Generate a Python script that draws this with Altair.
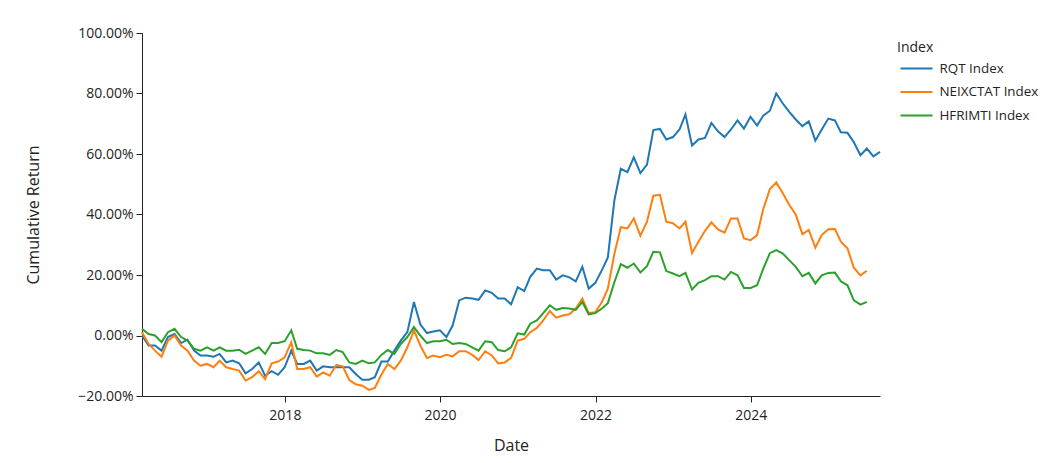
import altair as alt
import pandas as pd

# Monthly cumulative returns (%), first month = Feb 2016 (month-end dates)
start_date = "2016-02-29"
series_names = ["RQT Index", "NEIXCTAT Index", "HFRIMTI Index"]
series_colors = ["#1f77b4", "#ff7f0e", "#2ca02c"]

rqt = [0.0, -3.3, -3.3, -5.0, -0.5, 0.5, -2.5, -1.4, -5.0, -6.6,
       -6.6, -7.0, -6.1, -8.9, -8.3, -9.2, -12.5, -11.1, -8.9, -13.3,
       -11.8, -13.0, -10.5, -5.0, -9.4, -9.4, -8.3, -11.6, -10.2, -10.5,
       -10.5, -10.5, -10.5, -12.7, -14.6, -14.6, -13.8, -8.6, -8.6, -5.0,
       -1.7, 1.1, 11.1, 3.7, 0.8, 1.3, 1.7, -0.5, 3.3, 11.6,
       12.5, 12.2, 11.8, 14.9, 14.1, 12.2, 12.2, 10.3, 16.0, 14.7,
       19.4, 22.1, 21.6, 21.6, 18.5, 19.9, 19.2, 17.9, 22.7, 15.5,
       17.4, 21.6, 25.8, 44.8, 55.1, 54.0, 58.9, 53.7, 56.5, 67.9,
       68.3, 64.8, 65.6, 68.1, 73.1, 62.8, 64.8, 65.3, 70.3, 67.5,
       65.6, 68.1, 71.1, 68.4, 72.3, 69.4, 72.7, 74.3, 80.0, 76.7,
       73.9, 71.4, 69.2, 70.8, 64.4, 68.1, 71.7, 71.1, 67.2, 67.0,
       63.9, 59.6, 61.8, 59.2, 60.7]

neixctat = [1.1, -2.8, -5.0, -7.0, -1.7, 0.0, -3.3, -5.0, -8.3, -10.0,
            -9.4, -10.5, -8.3, -10.5, -11.1, -11.6, -14.9, -13.8, -11.8, -14.4,
            -9.2, -8.6, -7.2, -2.2, -11.1, -11.1, -10.5, -13.6, -12.2, -13.3,
            -9.7, -10.2, -14.7, -16.1, -16.6, -18.0, -17.3, -12.9, -9.4, -11.1,
            -8.3, -3.9, 1.7, -3.3, -7.4, -6.6, -7.2, -6.4, -6.9, -5.2,
            -5.2, -6.4, -8.1, -5.2, -6.6, -9.2, -8.9, -7.4, -1.7, -1.1,
            1.1, 2.5, 5.0, 8.1, 5.9, 6.6, 7.0, 8.9, 12.2, 7.4,
            7.7, 11.1, 15.5, 27.1, 35.8, 35.4, 38.7, 33.0, 37.6, 46.2,
            46.5, 37.6, 37.1, 35.4, 37.6, 27.3, 31.0, 34.6, 37.4, 35.1,
            34.0, 38.7, 38.7, 32.1, 31.5, 33.2, 41.8, 48.4, 50.6, 47.0,
            43.2, 39.9, 33.5, 34.9, 29.0, 33.2, 35.1, 35.2, 31.0, 28.8,
            22.4, 19.9, 21.4]

hfrimti = [2.2, 0.5, 0.0, -2.2, 1.1, 2.2, -0.5, -1.7, -4.4, -5.0,
           -3.9, -5.0, -3.9, -5.0, -5.0, -4.7, -6.1, -5.0, -3.9, -6.1,
           -2.5, -2.5, -1.9, 1.7, -4.4, -4.8, -5.0, -5.9, -5.9, -6.4,
           -4.8, -5.5, -8.9, -9.4, -8.3, -9.2, -8.9, -6.4, -4.8, -6.1,
           -2.8, -0.5, 2.8, 0.0, -2.5, -1.9, -1.9, -1.4, -2.8, -2.5,
           -2.8, -3.9, -5.0, -1.9, -2.2, -4.8, -5.2, -3.9, 0.7, 0.3,
           3.9, 5.0, 7.4, 10.0, 8.5, 9.1, 8.9, 8.5, 11.1, 7.0,
           7.4, 8.9, 10.7, 17.7, 23.6, 22.4, 23.8, 20.8, 22.9, 27.7,
           27.5, 21.3, 20.5, 19.6, 20.7, 15.2, 17.4, 18.3, 19.6, 19.6,
           18.5, 21.0, 19.9, 15.7, 15.7, 16.6, 22.1, 27.2, 28.2, 27.1,
           24.9, 22.7, 19.6, 20.7, 17.2, 19.9, 20.7, 20.8, 17.9, 16.6,
           11.6, 10.2, 11.1]

y_ticks = [-0.2, 0.0, 0.2, 0.4, 0.6, 0.8, 1.0]
x_tick_years = [2018, 2020, 2022, 2024]

dates = pd.date_range(start_date, periods=len(rqt), freq=pd.offsets.MonthEnd())
rows = []
for name, vals in zip(series_names, [rqt, neixctat, hfrimti]):
    for d, v in zip(dates, vals):
        rows.append({"Date": d.strftime("%Y-%m-%d"), "Index": name, "Return": v / 100.0})
df = pd.DataFrame(rows)

TXT = "rgb(36,36,36)"
FONT = "Open Sans"

chart = alt.Chart(df).mark_line(strokeWidth=2).encode(
    x=alt.X(
        "Date:T",
        scale=alt.Scale(
            type="utc",
            domain=[alt.DateTime(year=2016, month=2, date=29, utc=True),
                    alt.DateTime(year=2025, month=8, date=31, utc=True)],
            nice=False,
        ),
        axis=alt.Axis(
            values=[alt.DateTime(year=y, month=1, date=1, utc=True) for y in x_tick_years],
            format="%Y", formatType="utc",
            title="Date", titleY=49, titleX=369, titleBaseline="middle", titleAlign="center",
            labelPadding=6,
        ),
    ),
    y=alt.Y(
        "Return:Q",
        scale=alt.Scale(domain=[-0.2, 1.0], nice=False, zero=False),
        axis=alt.Axis(
            values=y_ticks, format=".2%",
            title="Cumulative Return", titleX=-109, titleY=181.5,
            titleBaseline="middle", titleAlign="center",
            labelPadding=3,
        ),
    ),
    color=alt.Color(
        "Index:N",
        scale=alt.Scale(domain=series_names, range=series_colors),
        sort=series_names,
        legend=alt.Legend(
            title="Index", orient="none", legendX=755, legendY=7.5,
            symbolType="M-1.6,0H1.6", symbolSize=400, symbolStrokeWidth=2,
            symbolOffset=8.5, labelOffset=12, rowPadding=5.5, titlePadding=3,
            labelFontSize=13.4, titleFontSize=14, titleFontWeight="normal",
            labelFont=FONT, titleFont=FONT, labelColor=TXT, titleColor=TXT,
            padding=0, labelLimit=200,
        ),
    ),
).properties(
    width=738, height=363,
    autosize=alt.AutoSizeParams(type="none"),
    padding={"left": 134, "top": 25, "right": 159, "bottom": 59},
).configure_view(stroke=None).configure_axis(
    grid=False,
    domainColor=TXT, tickColor=TXT, labelColor=TXT, titleColor=TXT,
    labelFont=FONT, titleFont=FONT, labelFontSize=14, titleFontSize=16,
    titleFontWeight="normal", tickSize=6, domainWidth=1, tickWidth=1,
)

chart.save("out.html", embed_options={"renderer": "svg", "actions": False})
